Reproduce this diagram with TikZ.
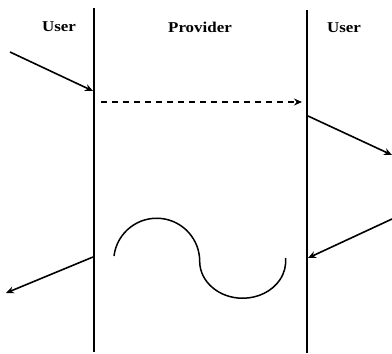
\documentclass[tikz,border=0pt]{standalone}
\usepackage{fontspec}
\setmainfont{Liberation Serif}
\usetikzlibrary{arrows.meta}
\begin{document}
\begin{tikzpicture}[x=1pt,y=-1pt,
  lane/.style={line width=2.8pt},
  msg/.style={line width=1.6pt,-{Stealth[length=8pt,width=7pt]}},
  lbl/.style={font=\fontsize{15}{16}\selectfont\bfseries,xscale=1.13}]
\useasboundingbox (0,0) rectangle (392,354);
% lanes
\coordinate (l1) at (94,8);  \coordinate (l2) at (94,352);
\coordinate (r1) at (307,10); \coordinate (r2) at (307,353);
\draw[lane] (l1) -- (l2);
\draw[lane] (r1) -- (r2);
% labels
\node[lbl] (u1) at (59,27) {User};
\node[lbl] (p) at (200,27) {Provider};
\node[lbl] (u2) at (344,28) {User};
% arrows
\coordinate (a1s) at (10,52);  \coordinate (a1e) at (93,91);
\coordinate (ds) at (101,102); \coordinate (de) at (302,102);
\coordinate (a2s) at (308,116); \coordinate (a2e) at (392,155);
\coordinate (a3s) at (392,219); \coordinate (a3e) at (308,258);
\coordinate (a4s) at (93,257); \coordinate (a4e) at (6,293);
\draw[msg] (a1s) -- (a1e);
\draw[msg,dashed,dash pattern=on 6pt off 5pt] (ds) -- (de);
\draw[msg] (a2s) -- (a2e);
\draw[msg] (a3s) -- (a3e);
\draw[msg] (a4s) -- (a4e);
% wave
\coordinate (w) at (114,256);
\draw[line width=1.5pt] (w) arc[start angle=187,end angle=360,radius=43] arc[start angle=180,end angle=-5,x radius=43,y radius=37];
\end{tikzpicture}
\end{document}
